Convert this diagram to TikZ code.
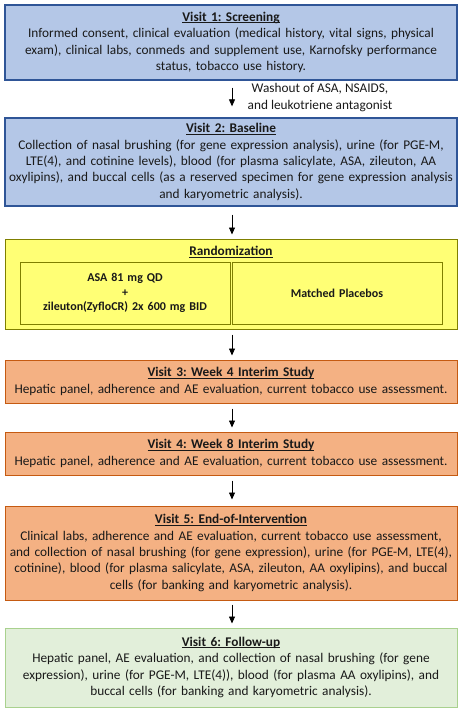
\documentclass[tikz,border=0pt]{standalone}
\usepackage{fontspec}
\setmainfont{Carlito}
\usetikzlibrary{arrows.meta}
\definecolor{bluefill}{HTML}{B4C7E7}
\definecolor{blueline}{HTML}{2F5597}
\definecolor{yelfill}{HTML}{FFFF75}
\definecolor{yelline}{HTML}{7F7F00}
\definecolor{orfill}{HTML}{F4B183}
\definecolor{orline}{HTML}{C55A11}
\definecolor{grfill}{HTML}{E2EFDA}
\definecolor{grline}{HTML}{A9D18E}
\newcommand{\undl}[1]{{\setbox0\hbox{#1}\rlap{\rule[-1.7pt]{\wd0}{0.8pt}}\box0}}
\newcommand{\ttl}[1]{\undl{\textbf{#1}}}
\frenchspacing
\begin{document}
\begin{tikzpicture}[x=1pt,y=-1pt,
  every node/.style={font=\frenchspacing\fontsize{13.3}{16.4}\selectfont, text=black!90},
  visitbox/.style={draw, line width=1pt, minimum width=452pt, text width=446pt, align=center, inner sep=0pt},
  bluebox/.style={visitbox, fill=bluefill, draw=blueline, line width=1.3pt},
  yelbox/.style={draw=yelline, fill=yelfill, line width=1pt},
  orbox/.style={visitbox, fill=orfill, draw=orline},
  grbox/.style={visitbox, fill=grfill, draw=grline},
  innerbox/.style={yelbox, minimum width=210pt, minimum height=62pt, text width=205pt, align=center, inner sep=0pt, font=\frenchspacing\fontsize{12}{14.6}\selectfont\bfseries},
  arr/.style={line width=0.8pt, -{Triangle[length=7pt,width=6pt]}}
]
\useasboundingbox (0,0) rectangle (461,711);

\node[bluebox, minimum height=75pt] (b1) at (231,42.5) {\ttl{Visit 1: Screening}\\
Informed consent, clinical evaluation (medical history, vital signs, physical\\
exam), clinical labs, conmeds and supplement use, Karnofsky performance\\
status, tobacco use history.};

\node[align=center, inner sep=0pt] (wash) at (320,97.5) {Washout of ASA, NSAIDS,\\and leukotriene antagonist};

\node[bluebox, minimum height=88pt] (b2) at (231,162) {\ttl{Visit 2: Baseline}\\
Collection of nasal brushing (for gene expression analysis), urine (for PGE-M,\\
LTE(4), and cotinine levels), blood (for plasma salicylate, ASA, zileuton, AA\\
oxylipins), and buccal cells (as a reserved specimen for gene expression analysis\\
and karyometric analysis).};

\node[yelbox, minimum width=452pt, minimum height=90pt, inner sep=0pt] (rand) at (231,284) {};
\node[inner sep=0pt] (randt) at (231,252) {\ttl{Randomization}};
\node[innerbox] (armA) at (125,293) {ASA 81 mg QD\\+\\zileuton(ZyfloCR) 2x 600 mg BID};
\node[innerbox] (armB) at (337,293) {Matched Placebos};

\node[orbox, minimum height=43pt] (b3) at (231,381.5) {\ttl{Visit 3: Week 4 Interim Study}\\
Hepatic panel, adherence and AE evaluation, current tobacco use assessment.};

\node[orbox, minimum height=43pt] (b4) at (231,453.5) {\ttl{Visit 4: Week 8 Interim Study}\\
Hepatic panel, adherence and AE evaluation, current tobacco use assessment.};

\node[orbox, minimum height=94pt] (b5) at (231,553) {\ttl{Visit 5: End-of-Intervention}\\
Clinical labs, adherence and AE evaluation, current tobacco use assessment,\\
and collection of nasal brushing (for gene expression), urine (for PGE-M, LTE(4),\\
cotinine), blood (for plasma salicylate, ASA, zileuton, AA oxylipins), and buccal\\
cells (for banking and karyometric analysis).};

\node[grbox, minimum height=79pt] (b6) at (231,667.5) {\ttl{Visit 6: Follow-up}\\
Hepatic panel, AE evaluation, and collection of nasal brushing (for gene\\
expression), urine (for PGE-M, LTE(4)), blood (for plasma AA oxylipins), and\\
buccal cells (for banking and karyometric analysis).};

\draw[arr, shorten <=7pt, shorten >=11pt] ([xshift=1pt]b1.south) -- ([xshift=1pt]b2.north);
\draw[arr, shorten <=8pt, shorten >=4pt] ([xshift=1pt]b2.south) -- ([xshift=1pt]rand.north);
\draw[arr, shorten <=5pt, shorten >=4pt] ([xshift=1pt]rand.south) -- ([xshift=1pt]b3.north);
\draw[arr, shorten <=5pt, shorten >=4pt] ([xshift=1pt]b3.south) -- ([xshift=1pt]b4.north);
\draw[arr, shorten <=5pt, shorten >=6pt] ([xshift=1pt]b4.south) -- ([xshift=1pt]b5.north);
\draw[arr, shorten <=4pt, shorten >=4pt] ([xshift=1pt]b5.south) -- ([xshift=1pt]b6.north);
\end{tikzpicture}
\end{document}
